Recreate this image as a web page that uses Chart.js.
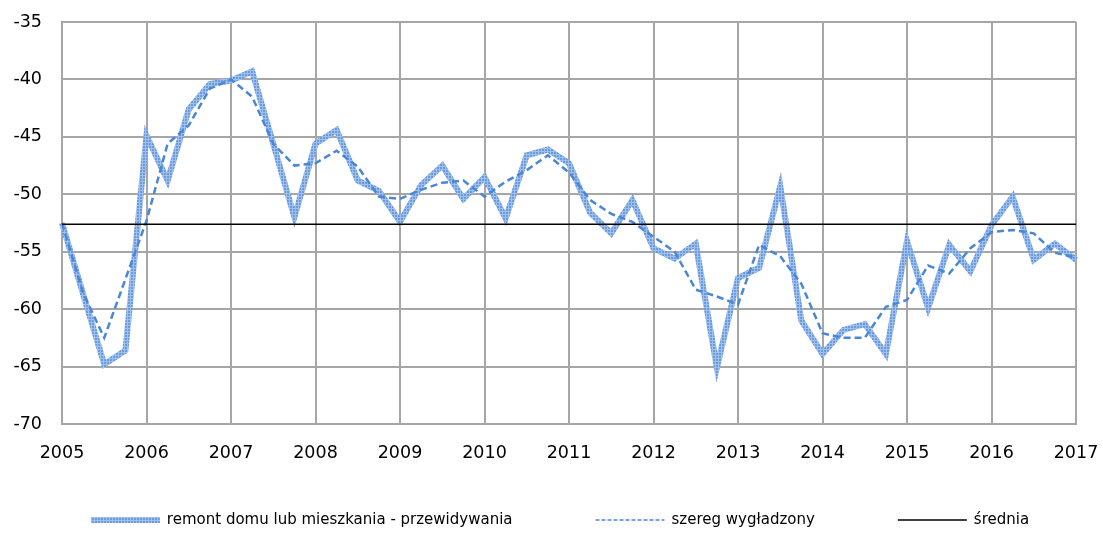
<!DOCTYPE html>
<html>
<head>
<meta charset="utf-8">
<script src="https://cdn.jsdelivr.net/npm/chart.js@4/dist/chart.umd.min.js"></script>
<style>
  html, body { margin: 0; padding: 0; background: #fff; }
  .wrap { width: 1103px; height: 534px; }
</style>
</head>
<body>
<div class="wrap"><canvas id="chart"></canvas></div>
<script>
const years = [2005, 2006, 2007, 2008, 2009, 2010, 2011, 2012, 2013, 2014, 2015, 2016, 2017]

// kwartalne, od 2005 Q1 do 2017 Q1
const przewidywania = [
    -52.5, -58.7, -64.8, -63.6,
    -44.9, -48.8, -42.6, -40.4,
    -40.1, -39.3, -45.6, -52.0,
    -45.6, -44.4, -48.8, -49.7,
    -52.4, -49.2, -47.5, -50.4,
    -48.5, -52.1, -46.6, -46.1,
    -47.3, -51.6, -53.4, -50.5,
    -54.7, -55.6, -54.3, -65.1,
    -57.3, -56.4, -49.3, -61.0,
    -63.9, -61.8, -61.3, -63.9,
    -54.1, -59.9, -54.4, -56.7,
    -52.7, -50.2, -55.7, -54.3,
    -55.7,
]
const wygladzony = [
    -52.5, -58.6, -62.5, -57.4,
    -52.3, -45.6, -44.0, -40.8,
    -40.0, -41.5, -45.6, -47.5,
    -47.3, -46.2, -47.6, -50.2,
    -50.4, -49.6, -49.0, -48.8,
    -50.2, -48.9, -47.9, -46.6,
    -48.1, -50.5, -51.7, -52.4,
    -53.7, -55.0, -58.3, -58.9,
    -59.6, -54.4, -55.4, -57.8,
    -62.1, -62.5, -62.5, -59.8,
    -59.2, -56.2, -56.9, -54.7,
    -53.3, -53.1, -53.4, -55.1,
    -55.5,
]
const srednia = -52.6

const yMin = -70
const yMax = -35
const yStep = 5

const labels = []
years.forEach((y, i) => {
    const quarters = i === years.length - 1 ? 1 : 4
    for (let q = 1; q <= quarters; q++) labels.push(y + ' Q' + q)
})

const FONT = '"DejaVu Sans", sans-serif'
const GRID = '#a6a6a6'

// faktura grubej linii
function hatch() {
    const c = document.createElement('canvas')
    c.width = 3
    c.height = 3
    const g = c.getContext('2d')
    g.fillStyle = '#6b9bde'
    g.fillRect(0, 0, 3, 3)
    g.fillStyle = '#a0c0ec'
    g.fillRect(1, 0, 1, 3)
    g.fillRect(0, 1, 3, 1)
    return g.createPattern(c, 'repeat')
}

const bottomLegend = {
    id: 'bottomLegend',
    afterDraw(chart) {
        const ctx = chart.ctx
        ctx.save()
        ctx.font = '15px ' + FONT
        const lineLen = 69, gapText = 7, gapItem = 83
        const items = chart.data.datasets.map(ds => ({
            ds,
            w: lineLen + gapText + ctx.measureText(ds.label).width,
        }))
        const total = items.reduce((s, it) => s + it.w, 0) + gapItem * (items.length - 1)
        let x = 560 - total / 2
        const y = 520
        items.forEach(({ ds, w }) => {
            ctx.beginPath()
            ctx.strokeStyle = ds.borderColor
            ctx.lineWidth = ds.legendWidth
            ctx.setLineDash(ds.legendDash || [])
            ctx.moveTo(x, y)
            ctx.lineTo(x + lineLen, y)
            ctx.stroke()
            ctx.setLineDash([])
            ctx.fillStyle = '#000'
            ctx.textBaseline = 'middle'
            ctx.fillText(ds.label, x + lineLen + gapText, y)
            x += w + gapItem
        })
        ctx.restore()
    },
}

const ctx = document.getElementById('chart').getContext('2d')
const chart = new Chart(ctx, {
    type: 'line',
    data: {
        labels: labels,
        datasets: [
            {
                label: 'remont domu lub mieszkania - przewidywania',
                data: przewidywania,
                borderColor: hatch(),
                borderWidth: 6,
                legendWidth: 6,
                pointRadius: 0,
                tension: 0,
                order: 3,
            },
            {
                label: 'szereg wygładzony',
                data: wygladzony,
                borderColor: '#4a86d6',
                borderWidth: 2.5,
                borderDash: [7, 4],
                legendWidth: 1.5,
                legendDash: [4, 2],
                pointRadius: 0,
                tension: 0,
                order: 2,
            },
            {
                label: 'średnia',
                data: [
                    { x: labels[0], y: srednia },
                    { x: labels[labels.length - 1], y: srednia },
                ],
                borderColor: '#000',
                borderWidth: 1.5,
                legendWidth: 1.5,
                pointRadius: 0,
                order: 1,
            },
        ],
    },
    options: {
        responsive: true,
        maintainAspectRatio: false,
        animation: false,
        devicePixelRatio: 1,
        layout: {
            padding: { top: 22, right: 27, bottom: 60, left: 0 },
        },
        plugins: {
            legend: { display: false },
            tooltip: { enabled: false },
        },
        scales: {
            x: {
                type: 'category',
                offset: false,
                afterFit: s => {
                    s.height = 50
                    s.paddingLeft = 0
                    s.paddingRight = 0
                },
                border: { color: GRID, width: 2 },
                grid: {
                    drawTicks: false,
                    lineWidth: 2,
                    color: c => (c.index % 4 === 0 ? GRID : 'rgba(0,0,0,0)'),
                },
                ticks: {
                    autoSkip: false,
                    maxRotation: 0,
                    padding: 19,
                    color: '#000',
                    font: { family: FONT, size: 17.5 },
                    callback: (v, i) => (i % 4 === 0 ? labels[i].slice(0, 4) : ''),
                },
            },
            y: {
                min: yMin,
                max: yMax,
                afterFit: s => {
                    s.width = 62
                    s.paddingTop = 0
                    s.paddingBottom = 0
                },
                border: { color: GRID, width: 2 },
                grid: { drawTicks: false, lineWidth: 2, color: GRID },
                ticks: {
                    stepSize: yStep,
                    padding: 20,
                    color: '#000',
                    font: { family: FONT, size: 17.5 },
                },
            },
        },
    },
    plugins: [bottomLegend],
})
</script>
</body>
</html>
